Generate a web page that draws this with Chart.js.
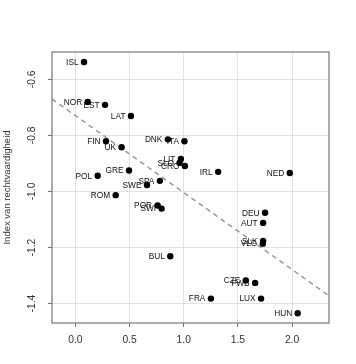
<!DOCTYPE html>
<html>
<head>
<meta charset="utf-8">
<script src="https://cdn.jsdelivr.net/npm/chart.js@4"></script>
<style>
  html, body { margin: 0; padding: 0; background: #ffffff; }
  #wrap { width: 356px; height: 364px; }
</style>
</head>
<body>
<div id="wrap"><canvas id="c" width="356" height="364"></canvas></div>
<script>
const countries = ["ISL","NOR","EST","LAT","FIN","UK","DNK","ITA","LIT","SLO","CRO","GRE","POL","IRL","NED","SPA","SWE","ROM","POR","SWI","DEU","AUT","SLK","VLG","BUL","CZE","FWB","FRA","LUX","HUN"];
const xValues = [0.080,0.114,0.274,0.513,0.283,0.427,0.854,1.007,0.974,0.961,1.011,0.495,0.206,1.318,1.979,0.780,0.661,0.372,0.759,0.796,1.751,1.733,1.733,1.730,0.876,1.573,1.659,1.251,1.714,2.052];
const yValues = [-0.538,-0.681,-0.691,-0.731,-0.821,-0.842,-0.814,-0.821,-0.884,-0.898,-0.909,-0.925,-0.944,-0.930,-0.934,-0.962,-0.977,-1.013,-1.050,-1.061,-1.076,-1.112,-1.176,-1.186,-1.231,-1.317,-1.326,-1.382,-1.382,-1.434];
const trendX = [-0.2157, 2.341];
const trendY = [-0.670, -1.372];
const xTicks = [0.0, 0.5, 1.0, 1.5, 2.0];
const yTicks = [-0.6, -0.8, -1.0, -1.2, -1.4];
const yTitle = "Index van rechtvaardigheid";

const FONT = "'Liberation Sans', Arial, Helvetica, sans-serif";

const points = countries.map((c, i) => ({ x: xValues[i], y: yValues[i] }));
const trend = trendX.map((x, i) => ({ x: x, y: trendY[i] }));

const labelPlugin = {
  id: 'pointLabels',
  beforeDatasetsDraw(chart) {
    const ctx = chart.ctx;
    const xs = chart.scales.x, ys = chart.scales.y;
    ctx.save();
    ctx.font = "8.3px " + FONT;
    ctx.fillStyle = "#111";
    ctx.textAlign = "right";
    ctx.textBaseline = "middle";
    countries.forEach((c, i) => {
      const px = xs.getPixelForValue(xValues[i]);
      const py = ys.getPixelForValue(yValues[i]);
      ctx.fillText(c, px - 5.5, py + 0.5);
    });
    ctx.restore();
  },
  afterDraw(chart) {
    const a = chart.chartArea;
    const ctx = chart.ctx;
    ctx.save();
    ctx.strokeStyle = "#777";
    ctx.lineWidth = 1.2;
    ctx.strokeRect(a.left, a.top, a.right - a.left, a.bottom - a.top);
    ctx.restore();
  }
};

new Chart(document.getElementById('c'), {
  type: 'scatter',
  data: {
    datasets: [
      {
        data: points,
        backgroundColor: '#000',
        borderWidth: 0,
        pointRadius: 3.2,
        pointHoverRadius: 3.2,
        order: 1
      },
      {
        type: 'line',
        data: trend,
        borderColor: '#9a9a9a',
        borderWidth: 1.5,
        borderDash: [5, 4],
        pointRadius: 0,
        fill: false,
        order: 2
      }
    ]
  },
  options: {
    responsive: false,
    animation: false,
    events: [],
    layout: { padding: { left: 0, top: 52, right: 27, bottom: 0 } },
    plugins: { legend: { display: false }, tooltip: { enabled: false } },
    scales: {
      x: {
        type: 'linear',
        min: -0.2157,
        max: 2.341,
        afterBuildTicks: s => { s.ticks = xTicks.map(v => ({ value: v })); },
        afterFit: s => { s.height = 41; },
        border: { display: false },
        grid: { color: '#e2e2e2', lineWidth: 1, tickColor: '#777', tickLength: 4, tickWidth: 1 },
        ticks: {
          color: '#333',
          font: { family: FONT, size: 10.3 },
          padding: 7,
          maxRotation: 0,
          minRotation: 0,
          callback: v => Number(v).toFixed(1)
        }
      },
      y: {
        type: 'linear',
        min: -1.469,
        max: -0.5025,
        afterBuildTicks: s => { s.ticks = yTicks.map(v => ({ value: v })); },
        afterFit: s => { s.width = 52; },
        border: { display: false },
        grid: { color: '#e2e2e2', lineWidth: 1, tickColor: '#777', tickLength: 4, tickWidth: 1 },
        title: {
          display: true,
          text: yTitle,
          color: '#333',
          font: { family: FONT, size: 9.5 },
          padding: { top: 2, bottom: 0 }
        },
        ticks: {
          color: '#333',
          font: { family: FONT, size: 10.3 },
          padding: 7,
          minRotation: 90,
          maxRotation: 90,
          crossAlign: 'center',
          callback: v => Number(v).toFixed(1)
        }
      }
    }
  },
  plugins: [labelPlugin]
});
</script>
</body>
</html>
